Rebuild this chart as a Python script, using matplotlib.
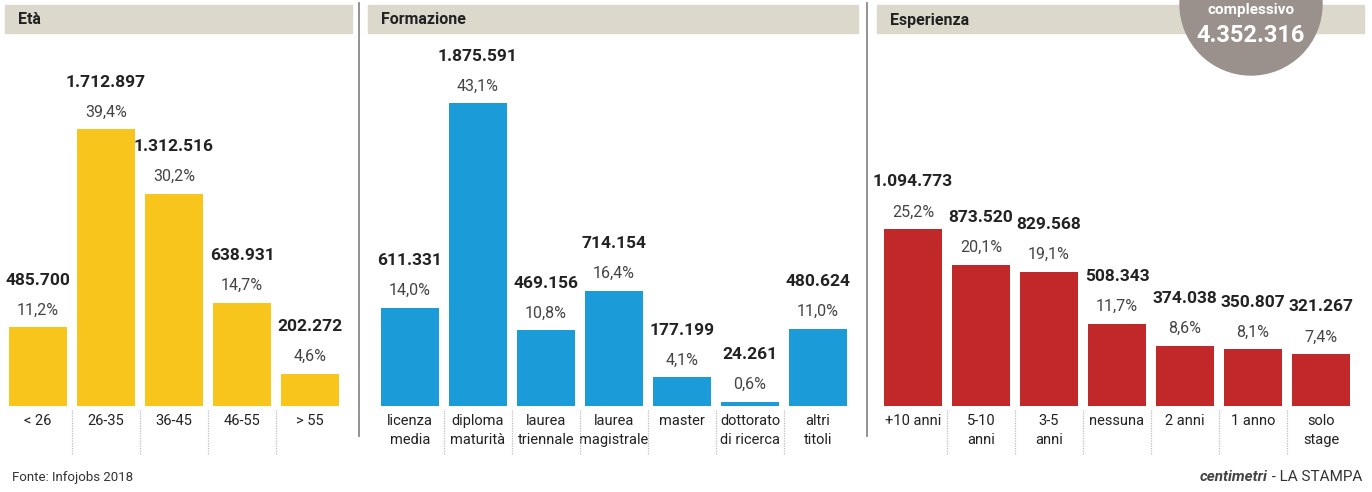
import matplotlib.pyplot as plt
from matplotlib.patches import Rectangle, Circle

plt.rcParams['font.family'] = ['Roboto', 'DejaVu Sans']

eta_labels = ['< 26', '26-35', '36-45', '46-55', '> 55']
eta_vals = [485700, 1712897, 1312516, 638931, 202272]
eta_pct = [11.2, 39.4, 30.2, 14.7, 4.6]

form_labels = ['licenza\nmedia', 'diploma\nmaturità', 'laurea\ntriennale', 'laurea\nmagistrale',
               'master', 'dottorato\ndi ricerca', 'altri\ntitoli']
form_vals = [611331, 1875591, 469156, 714154, 177199, 24261, 480624]
form_pct = [14.0, 43.1, 10.8, 16.4, 4.1, 0.6, 11.0]

esp_labels = ['+10 anni', '5-10\nanni', '3-5\nanni', 'nessuna', '2 anni', '1 anno', 'solo\nstage']
esp_vals = [1094773, 873520, 829568, 508343, 374038, 350807, 321267]
esp_pct = [25.2, 20.1, 19.1, 11.7, 8.6, 8.1, 7.4]

totale = 4352316

W, H = 1372, 492
fig = plt.figure(figsize=(W / 100, H / 100), dpi=100)

# background layer in pixel coordinates
bg = fig.add_axes([0, 0, 1, 1])
bg.set_xlim(0, W)
bg.set_ylim(H, 0)
bg.axis('off')

headers = [('Età', 5, 352), ('Formazione', 368, 858), ('Esperienza', 877, 1364)]
for title, x0, x1 in headers:
    bg.add_patch(Rectangle((x0, 5), x1 - x0, 28, color='#dcd8cc', zorder=1))
    bg.text(x0 + 13, 20, title, fontsize=11.5, fontweight='bold', color='#222222',
            va='center', ha='left', zorder=2)

for x in [359, 867]:
    bg.plot([x, x], [3, 436], color='#8a8a8a', lw=1.3, zorder=1)

bg.add_patch(Circle((1251, 4), 71, color='#9a918c', zorder=3))
bg.text(1251, 10, 'complessivo', fontsize=11, fontweight='bold', color='white',
        ha='center', va='center', zorder=4)
bg.text(1251, 35, f"{totale:,}".replace(',', '.'), fontsize=17, fontweight='bold',
        color='white', ha='center', va='center', zorder=4)

bg.text(12, 478, 'Fonte: Infojobs 2018', fontsize=9.5, color='#333333', va='center')
src = bg.text(1362, 477, ' - LA STAMPA', fontsize=11, color='#333333', va='center', ha='right')
fig.canvas.draw()
left = src.get_window_extent().x0
bg.text(left, 477, 'centimetri', fontsize=11, fontweight='bold', fontstyle='italic',
        color='#444444', va='center', ha='right')

px_per_pct = 7.03
base_y = 406
ax_top = 40


def panel(x0, labels, vals, pct, color):
    n = len(labels)
    width = n * 68
    ax = fig.add_axes([x0 / W, 1 - base_y / H, width / W, (base_y - ax_top) / H])
    ax.set_xlim(-0.5, n - 0.5)
    ax.set_ylim(0, (base_y - ax_top) / px_per_pct)
    ax.patch.set_alpha(0)
    for s in ax.spines.values():
        s.set_visible(False)
    ax.bar(range(n), pct, width=0.84, color=color, zorder=2)
    for i, (v, p) in enumerate(zip(vals, pct)):
        ax.annotate(f"{p:.1f}%".replace('.', ','), (i, p), xytext=(0, 17),
                    textcoords='offset pixels', ha='center', va='center',
                    fontsize=11.5, color='#444444')
        ax.annotate(f"{v:,}".replace(',', '.'), (i, p), xytext=(0, 47),
                    textcoords='offset pixels', ha='center', va='center',
                    fontsize=12.5, fontweight='bold', color='#222222')
    ax.set_yticks([])
    ax.set_xticks(range(n))
    ax.set_xticklabels(labels, fontsize=10.5, color='#222222', linespacing=1.5)
    ax.tick_params(axis='x', length=0, pad=5.5)
    tr = ax.get_xaxis_transform()
    for i in range(1, n):
        ax.plot([i - 0.5, i - 0.5], [-0.01, -0.135], transform=tr, clip_on=False,
                color='#bbbbbb', lw=0.9, ls=(0, (1, 1)))
    return ax


panel(4, eta_labels, eta_vals, eta_pct, '#f8c51c')
panel(376, form_labels, form_vals, form_pct, '#1b9bd7')
panel(879, esp_labels, esp_vals, esp_pct, '#c1282a')

fig.savefig('out.png', dpi=100)
